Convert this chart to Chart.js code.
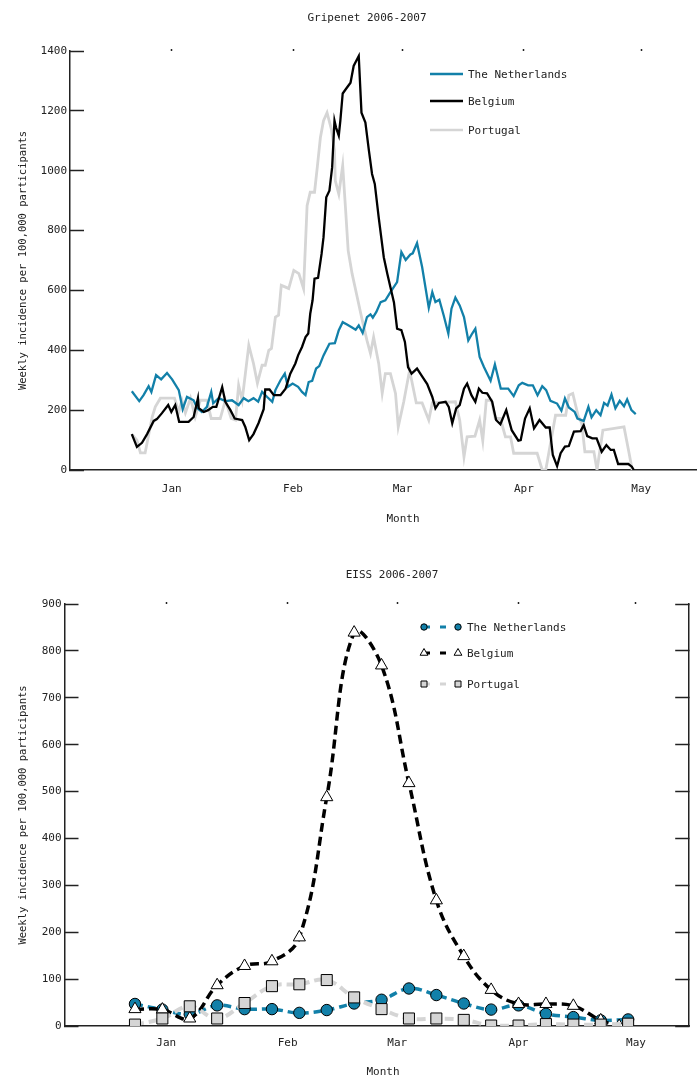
<!DOCTYPE html>
<html>
<head>
<meta charset="utf-8">
<title>Gripenet / EISS 2006-2007</title>
<script src="https://cdn.jsdelivr.net/npm/chart.js@4.4.1/dist/chart.umd.min.js"></script>
<style>
  html, body { margin: 0; padding: 0; background: #fff; overflow: hidden; }
  .panel { position: relative; width: 698px; }
  canvas { display: block; }
</style>
</head>
<body>
<div class="panel" style="height:540px"><canvas id="gripenetChart" width="698" height="540"></canvas></div>
<div class="panel" style="height:545px"><canvas id="eissChart" width="698" height="545"></canvas></div>
<script>
// days counted from 1 January 2007
const monthTicks = [0, 31, 59, 90, 120];
const monthLabels = ['Jan', 'Feb', 'Mar', 'Apr', 'May'];
const countries = ['The Netherlands', 'Belgium', 'Portugal'];

// Gripenet: daily incidence
const nlDays = [-10.2,-8.3,-7.2,-5.9,-5.2,-4.0,-2.7,-1.2,0.1,1.8,2.8,3.9,5.6,6.5,7.7,9.0,10.1,10.6,12.0,13.7,15.4,17.1,18.4,19.6,20.9,22.1,23.1,24.4,25.7,26.5,27.8,28.9,29.7,30.9,32.3,33.3,34.2,35.0,35.9,36.9,37.7,38.8,40.3,41.7,42.7,43.7,44.8,46.1,47.0,47.8,48.8,49.9,50.8,51.4,52.3,53.4,54.6,55.9,57.6,58.7,59.8,61.0,61.6,62.7,64.0,65.7,66.6,67.4,68.4,69.5,70.7,71.5,72.5,73.6,74.7,75.8,76.8,77.6,78.7,79.8,81.5,82.6,84.1,86.0,87.4,88.7,89.6,91.1,92.3,93.5,94.7,95.7,96.8,98.5,99.6,100.5,101.5,103.0,103.7,105.3,106.5,107.3,108.5,109.6,110.5,111.4,112.4,113.4,114.5,115.6,116.4,117.5,118.6];
const nlGripenet = [263,230,250,280,261,317,303,324,303,267,203,244,233,207,194,211,261,223,240,230,233,217,240,230,240,228,261,244,228,267,300,322,278,289,278,261,250,294,298,339,347,383,422,424,467,494,486,476,469,483,458,511,520,509,528,561,567,594,628,728,702,720,724,758,678,542,594,561,569,517,456,539,576,550,511,433,456,472,378,344,298,353,272,272,247,283,291,283,283,250,280,267,231,222,198,239,209,194,172,164,211,176,200,183,224,215,252,206,231,213,236,200,187];

const beDays = [-10.2,-8.9,-7.6,-6.3,-4.6,-3.8,-2.5,-0.9,-0.1,0.9,1.9,4.3,5.6,6.7,6.9,8.2,9.3,10.5,11.4,12.9,13.7,15.0,16.1,18.0,18.8,19.8,20.9,22.2,23.5,23.9,25.0,26.1,27.8,29.1,30.3,31.6,32.3,33.3,34.2,34.9,35.4,36.0,36.5,37.4,38.3,38.8,39.5,40.3,41.0,41.6,42.0,42.7,43.1,43.7,44.8,45.7,46.5,47.8,48.5,49.5,50.4,51.2,51.9,52.9,54.2,55.1,55.9,56.8,57.6,58.7,59.6,60.4,61.3,62.7,64.0,65.3,66.6,67.4,68.3,70.0,70.8,71.7,72.7,73.6,74.7,75.5,76.6,77.6,78.5,79.4,80.6,81.9,82.9,84.0,85.5,86.9,88.6,89.2,90.3,91.5,92.6,94.0,95.6,96.6,97.4,98.5,99.4,100.5,101.5,102.8,104.5,105.3,106.2,107.5,108.6,109.9,111.1,112.2,113.0,114.1,116.7,117.6,118.1];
const beGripenet = [120,77,91,120,164,170,190,217,194,217,161,161,177,240,207,194,200,211,211,277,228,200,172,167,144,100,120,157,203,269,269,250,250,272,322,356,383,411,444,456,522,567,639,642,722,778,911,933,1011,1167,1144,1117,1167,1258,1278,1294,1350,1383,1194,1161,1067,989,956,844,711,656,611,560,472,467,428,344,322,339,313,287,244,206,224,228,211,156,206,217,272,289,250,228,272,258,256,228,167,153,200,133,98,100,172,206,139,167,142,142,50,13,56,78,80,128,130,150,113,106,106,61,83,67,67,20,20,11,0];

const ptDays = [-10.2,-8.9,-8.0,-6.8,-5.5,-5.0,-4.2,-2.9,-1.6,0.7,1.8,2.6,3.5,4.8,6.0,7.3,9.0,10.1,12.4,13.7,15.2,16.3,17.1,18.0,19.7,20.9,21.9,23.1,23.9,24.8,25.5,26.5,27.3,28.0,29.1,29.9,31.2,32.5,33.7,34.6,35.4,36.5,37.2,38.0,38.8,39.7,40.8,41.6,41.8,42.7,43.7,44.4,45.1,46.1,47.4,48.7,49.9,50.8,51.6,52.9,53.8,54.6,55.9,57.2,57.9,59.3,60.8,62.5,64.0,65.7,66.6,72.5,73.6,74.7,75.5,77.5,78.7,79.5,80.4,81.7,82.7,84.0,85.3,86.6,87.4,93.4,94.7,95.6,98.1,100.7,101.5,102.5,103.9,104.8,105.6,107.9,108.7,110.2,115.6,116.9,117.7];
const ptGripenet = [120,100,57,57,144,177,211,240,240,240,194,233,191,240,177,233,233,172,172,233,172,167,283,233,417,356,290,350,350,400,406,511,517,617,611,606,667,656,606,883,928,928,1011,1111,1167,1194,1139,1067,967,922,1017,878,733,656,578,500,433,389,444,356,256,322,322,256,144,228,333,224,224,167,224,228,167,44,111,113,167,98,233,233,172,172,111,111,56,56,0,0,183,183,250,256,180,156,61,61,0,133,144,56,0];

// EISS: weekly incidence
const eissDays = [-8,-1,6,13,20,27,34,41,48,55,62,69,76,83,90,97,104,111,118];
const eissDaysBelgium = [-8,-1,6,13,20,27,34,41,48,55,62,69,76,83,90,97,104,111,115.7];
const nlEiss = [47,35,25,44,36,36,28,34,48,56,80,66,48,35,44,26,19,12,14];
const beEiss = [36,35,16,87,128,138,189,488,839,769,518,268,149,77,47,47,43,12,0];
const ptEiss = [3,16,42,16,49,85,89,98,61,36,16,16,13,1,1,4,3,3,5];

const ink = '#222222';
const nlBlue = '#1280a9';
const ptGrey = '#d5d5d5';
const fontFamily = '"DejaVu Sans Mono", monospace';
const yTitle = 'Weekly incidence per 100,000 participants';

function toPoints(days, values) {
    return days.map((d, i) => ({ x: d, y: values[i] }));
}

function setMonthTicks(scale) {
    scale.ticks = monthTicks.map(v => ({ value: v }));
}

function drawMarker(ctx, style, x, y, r, fill) {
    ctx.beginPath();
    if (style === 'circle') {
        ctx.arc(x, y, r, 0, Math.PI * 2);
    } else if (style === 'triangle') {
        ctx.moveTo(x, y - r);
        ctx.lineTo(x + r * 0.866, y + r / 2);
        ctx.lineTo(x - r * 0.866, y + r / 2);
        ctx.closePath();
    } else {
        ctx.rect(x - r, y - r, 2 * r, 2 * r);
    }
    ctx.fillStyle = fill;
    ctx.fill();
    ctx.lineWidth = 1;
    ctx.strokeStyle = '#000';
    ctx.stroke();
}

// chart title, x axis title and legend drawn inside the canvas
const overlayPlugin = {
    id: 'overlay',
    afterDraw(chart, args, opts) {
        const ctx = chart.ctx;
        ctx.save();
        ctx.font = `11px ${fontFamily}`;
        ctx.fillStyle = ink;
        ctx.textAlign = 'center';
        ctx.textBaseline = 'middle';
        ctx.fillText(opts.title, opts.titleX, opts.titleY);
        ctx.fillText('Month', opts.monthX, opts.monthY);

        opts.items.forEach(item => {
            ctx.strokeStyle = item.color;
            ctx.beginPath();
            ctx.moveTo(opts.lineStart, item.y);
            ctx.lineTo(opts.lineEnd, item.y);
            if (item.marker) {
                ctx.setLineDash([6, 10]);
                ctx.lineWidth = 3;
                ctx.stroke();
                ctx.setLineDash([]);
                drawMarker(ctx, item.marker, opts.lineStart, item.y, item.size, item.fill);
                drawMarker(ctx, item.marker, opts.lineEnd, item.y, item.size, item.fill);
            } else {
                ctx.lineWidth = 2.5;
                ctx.stroke();
            }
            ctx.fillStyle = ink;
            ctx.textAlign = 'left';
            ctx.fillText(item.label, opts.textX, item.y + 1);
        });
        ctx.restore();
    }
};

function buildScales(cfg) {
    const scales = {
        x: {
            type: 'linear',
            min: -26,
            max: cfg.xMax,
            afterBuildTicks: setMonthTicks,
            ticks: {
                callback: v => monthLabels[monthTicks.indexOf(v)],
                autoSkip: false,
                maxRotation: 0,
                padding: cfg.xLabelPad,
                color: ink,
                font: { family: fontFamily, size: 11 }
            },
            grid: { drawOnChartArea: false, drawTicks: false },
            border: { display: true, color: ink, width: 1.5 },
            afterFit: s => { s.height = cfg.xHeight; }
        },
        xTop: {
            type: 'linear',
            position: 'top',
            min: -26,
            max: cfg.xMax,
            afterBuildTicks: setMonthTicks,
            ticks: { display: false },
            grid: { drawOnChartArea: false, tickLength: 2, tickWidth: 1.5, tickColor: ink },
            border: { display: false },
            afterFit: s => { s.height = 0; }
        },
        y: {
            min: 0,
            max: cfg.yMax,
            ticks: {
                stepSize: cfg.yStep,
                callback: v => String(v),
                padding: 17,
                color: ink,
                font: { family: fontFamily, size: 11 }
            },
            grid: { drawOnChartArea: false, tickLength: -14, tickWidth: 1.5, tickColor: ink },
            border: { display: true, color: ink, width: 1.5 },
            title: {
                display: true,
                text: yTitle,
                color: ink,
                font: { family: fontFamily, size: 10.5 },
                padding: { top: 17, bottom: 0 }
            },
            afterFit: s => { s.width = cfg.yWidth; }
        }
    };
    if (cfg.rightAxis) {
        scales.yRight = {
            position: 'right',
            min: 0,
            max: cfg.yMax,
            ticks: { stepSize: cfg.yStep, display: false },
            grid: { drawOnChartArea: false, tickLength: -14, tickWidth: 1.5, tickColor: ink },
            border: { display: true, color: ink, width: 1.5 },
            afterFit: s => { s.width = 7; }
        };
    }
    return scales;
}

new Chart(document.getElementById('gripenetChart'), {
    type: 'line',
    data: {
        datasets: [
            {
                label: countries[0],
                data: toPoints(nlDays, nlGripenet),
                borderColor: nlBlue,
                borderWidth: 2.3,
                pointRadius: 0,
                tension: 0,
                order: 2
            },
            {
                label: countries[1],
                data: toPoints(beDays, beGripenet),
                borderColor: '#000000',
                borderWidth: 2.3,
                pointRadius: 0,
                tension: 0,
                order: 1
            },
            {
                label: countries[2],
                data: toPoints(ptDays, ptGripenet),
                borderColor: ptGrey,
                borderWidth: 2.8,
                pointRadius: 0,
                tension: 0,
                order: 3
            }
        ]
    },
    options: {
        responsive: false,
        animation: false,
        events: [],
        layout: { padding: { top: 51, right: 2, bottom: 0, left: 0 } },
        scales: buildScales({
            xMax: 134, xLabelPad: 13, xHeight: 70,
            yMax: 1400, yStep: 200, yWidth: 70, rightAxis: false
        }),
        plugins: {
            legend: { display: false },
            tooltip: { enabled: false },
            overlay: {
                title: 'Gripenet 2006-2007', titleX: 367, titleY: 18,
                monthX: 403, monthY: 519,
                lineStart: 430, lineEnd: 463, textX: 468,
                items: [
                    { label: countries[0], color: nlBlue, y: 74 },
                    { label: countries[1], color: '#000000', y: 101 },
                    { label: countries[2], color: ptGrey, y: 130 }
                ]
            }
        }
    },
    plugins: [overlayPlugin]
});

new Chart(document.getElementById('eissChart'), {
    type: 'line',
    data: {
        datasets: [
            {
                label: countries[0],
                data: toPoints(eissDays, nlEiss),
                borderColor: nlBlue,
                borderWidth: 3.5,
                borderDash: [8, 5],
                tension: 0.4,
                pointStyle: 'circle',
                pointRadius: 5.7,
                pointBackgroundColor: nlBlue,
                pointBorderColor: '#000000',
                pointBorderWidth: 1,
                clip: 0,
                order: 3
            },
            {
                label: countries[1],
                data: toPoints(eissDaysBelgium, beEiss),
                borderColor: '#000000',
                borderWidth: 3.5,
                borderDash: [9, 5],
                tension: 0.4,
                pointStyle: 'triangle',
                pointRadius: 7,
                pointBackgroundColor: '#ffffff',
                pointBorderColor: '#000000',
                pointBorderWidth: 1,
                clip: 0,
                order: 2
            },
            {
                label: countries[2],
                data: toPoints(eissDays, ptEiss),
                borderColor: ptGrey,
                borderWidth: 4,
                borderDash: [9, 5],
                tension: 0.4,
                pointStyle: 'rect',
                pointRadius: 7.8,
                pointBackgroundColor: ptGrey,
                pointBorderColor: '#000000',
                pointBorderWidth: 1,
                clip: 0,
                order: 1
            }
        ]
    },
    options: {
        responsive: false,
        animation: false,
        events: [],
        layout: { padding: { top: 64, right: 0, bottom: 0, left: 0 } },
        scales: buildScales({
            xMax: 133.6, xLabelPad: 11, xHeight: 59,
            yMax: 900, yStep: 100, yWidth: 64.5, rightAxis: true
        }),
        plugins: {
            legend: { display: false },
            tooltip: { enabled: false },
            overlay: {
                title: 'EISS 2006-2007', titleX: 392, titleY: 35,
                monthX: 383, monthY: 531.7,
                lineStart: 424, lineEnd: 458, textX: 467,
                items: [
                    { label: countries[0], color: nlBlue, y: 87, marker: 'circle', size: 3.2, fill: nlBlue },
                    { label: countries[1], color: '#000000', y: 113, marker: 'triangle', size: 4.5, fill: '#ffffff' },
                    { label: countries[2], color: ptGrey, y: 144, marker: 'rect', size: 3, fill: ptGrey }
                ]
            }
        }
    },
    plugins: [overlayPlugin]
});
</script>
</body>
</html>
